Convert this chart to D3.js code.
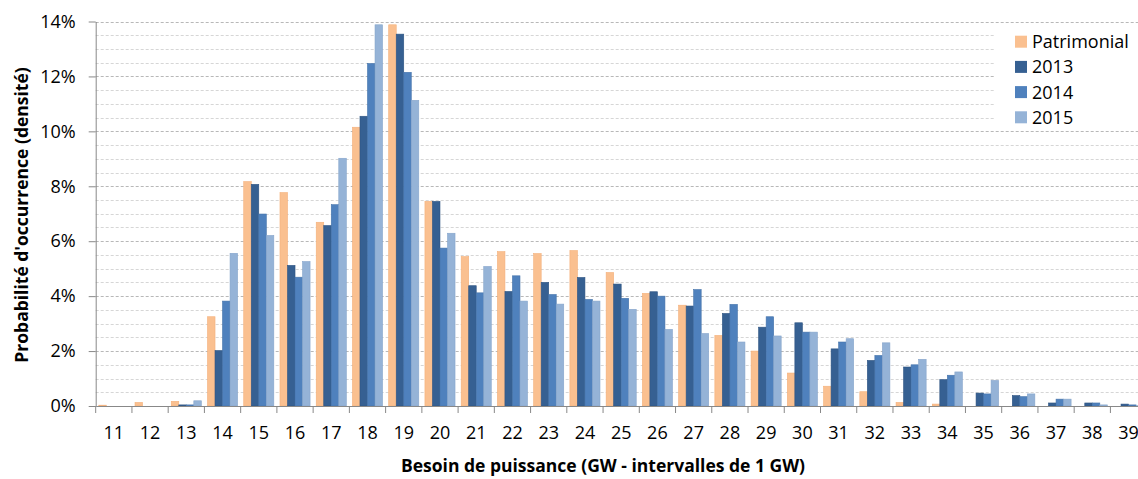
<!DOCTYPE html>
<html>
<head>
<meta charset="utf-8">
<script src="https://cdn.jsdelivr.net/npm/d3@7"></script>
<style>
body{margin:0;background:#fff;}
svg{display:block;font-family:"Open Sans",sans-serif;}
</style>
</head>
<body>
<script>
var categories=['11','12','13','14','15','16','17','18','19','20','21','22','23','24','25','26','27','28','29','30','31','32','33','34','35','36','37','38','39'];
var seriesNames=['Patrimonial','2013','2014','2015'];
var patrimonial=[0.03,0.13,0.17,3.25,8.17,7.77,6.69,10.15,13.88,7.45,5.44,5.62,5.55,5.66,4.86,4.10,3.67,2.57,2.00,1.20,0.72,0.52,0.13,0.07,0,0,0,0,0];
var y2013=[0,0,0.04,2.02,8.07,5.12,6.57,10.55,13.54,7.45,4.38,4.17,4.50,4.68,4.44,4.16,3.64,3.37,2.87,3.03,2.08,1.66,1.42,0.96,0.47,0.38,0.11,0.11,0.07];
var y2014=[0,0,0.04,3.82,6.99,4.69,7.33,12.47,12.15,5.75,4.12,4.74,4.06,3.88,3.92,4.00,4.24,3.70,3.25,2.69,2.33,1.84,1.50,1.12,0.44,0.34,0.25,0.11,0.04];
var y2015=[0,0,0.19,5.56,6.21,5.26,9.02,13.88,11.13,6.29,5.08,3.82,3.71,3.82,3.52,2.79,2.64,2.33,2.55,2.69,2.45,2.30,1.70,1.24,0.93,0.44,0.25,0.04,0.01];
var yTicks=[0,2,4,6,8,10,12,14];
var colors=['#FAC090','#366092','#4F81BD','#95B3D7'];
var strokes=['#F4B07A','#2E5482','#4573AA','#86A5CB'];

var width=1138,height=479;
var margin={left:95.7,top:21.5,bottom:73};
var plotBottom=height-margin.bottom;

var svg=d3.select('body').append('svg')
.attr('width',width)
.attr('height',height);

var x=d3.scaleBand()
.domain(categories)
.range([margin.left,margin.left+36.24*categories.length])
.paddingInner(0.17)
.paddingOuter(0.085);

var xOuter=d3.scaleBand()
.domain(categories)
.range([margin.left,margin.left+36.24*categories.length]);

var xInner=d3.scaleBand()
.domain(seriesNames)
.range([0,x.bandwidth()]);

var y=d3.scaleLinear()
.domain([0,14])
.range([plotBottom,margin.top]);

var allSeries=[patrimonial,y2013,y2014,y2015];

// grid lines, every 0.5%
var grid=d3.range(0.5,14.01,0.5);
svg.append('g')
.selectAll('line')
.data(grid)
.enter()
.append('line')
.attr('x1',margin.left)
.attr('x2',width)
.attr('y1',d=>Math.round(y(d))+0.5)
.attr('y2',d=>Math.round(y(d))+0.5)
.style('stroke',d=>d%2===0?'#b8b8b8':'#d6d6d6')
.style('stroke-dasharray','3,2')
.style('stroke-width',1);

// bars
var groups=svg.append('g')
.selectAll('g')
.data(categories)
.enter()
.append('g')
.attr('transform',d=>'translate('+x(d)+',0)');

groups.selectAll('rect')
.data((d,i)=>seriesNames.map((s,j)=>({s:s,j:j,v:allSeries[j][i]})))
.enter()
.append('rect')
.attr('x',d=>xInner(d.s))
.attr('width',xInner.bandwidth())
.attr('y',d=>y(d.v))
.attr('height',d=>plotBottom-y(d.v))
.style('fill',d=>colors[d.j])
.style('stroke',d=>d.v>0?strokes[d.j]:'none')
.style('stroke-width',0.6);

// legend background and items
var legend=svg.append('g').attr('transform','translate(995,28)');
legend.append('rect')
.attr('width',150)
.attr('height',97)
.style('fill','#fff');

var items=legend.selectAll('g')
.data(seriesNames)
.enter()
.append('g')
.attr('transform',(d,i)=>'translate(20,'+(13.7+i*25.2)+')');
items.append('rect')
.attr('x',0)
.attr('y',-6)
.attr('width',12)
.attr('height',12)
.style('fill',(d,i)=>colors[i]);
items.append('text')
.attr('x',17)
.attr('dy','0.36em')
.style('font-size','18px')
.style('fill','#000')
.text(d=>d);

// axes
var yAxis=d3.axisLeft(y)
.tickValues(yTicks)
.tickSizeInner(7)
.tickSizeOuter(0)
.tickPadding(13)
.tickFormat(d=>d+'%');

var yAxisG=svg.append('g')
.attr('transform','translate('+margin.left+',0)')
.call(yAxis);
yAxisG.select('.domain').style('stroke','#888');
yAxisG.selectAll('.tick line').style('stroke','#888');
yAxisG.selectAll('text').style('font-size','18px').style('fill','#000').style('font-family','"Open Sans",sans-serif');

var xAxis=d3.axisBottom(xOuter)
.tickSize(0)
.tickPadding(20);

var xAxisG=svg.append('g')
.attr('transform','translate(0,'+plotBottom+')')
.call(xAxis);
xAxisG.select('.domain').style('stroke','#888');
xAxisG.selectAll('text').style('font-size','18px').style('fill','#000').style('font-family','"Open Sans",sans-serif');

// tick marks between categories
svg.append('g')
.selectAll('line')
.data(categories)
.enter()
.append('line')
.attr('x1',d=>xOuter(d))
.attr('x2',d=>xOuter(d))
.attr('y1',plotBottom)
.attr('y2',plotBottom+7)
.style('stroke','#888');

// axis titles
svg.append('text')
.attr('x',603)
.attr('y',472)
.attr('text-anchor','middle')
.style('font-size','17.5px')
.style('font-weight','bold')
.text('Besoin de puissance (GW - intervalles de 1 GW)');

svg.append('text')
.attr('transform','translate(28,215) rotate(-90)')
.attr('text-anchor','middle')
.style('font-size','17.5px')
.style('font-weight','bold')
.text("Probabilité d'occurrence (densité)");
</script>
</body>
</html>
